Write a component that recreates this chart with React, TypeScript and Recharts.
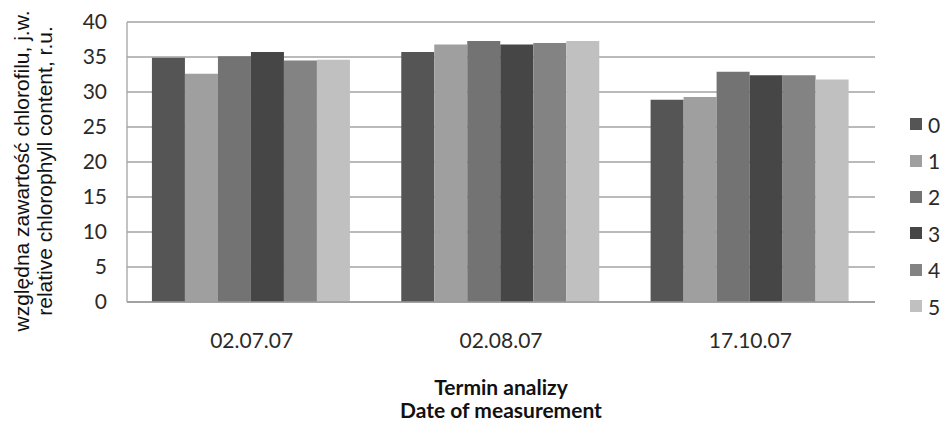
import React from "react";
import {
  BarChart,
  Bar,
  XAxis,
  YAxis,
  CartesianGrid,
  Legend,
} from "recharts";

// measurement dates
const dates = ["02.07.07", "02.08.07", "17.10.07"];

// relative chlorophyll content per variant (0..5)
const variant0 = [34.9, 35.7, 28.9];
const variant1 = [32.6, 36.8, 29.3];
const variant2 = [35.1, 37.3, 32.9];
const variant3 = [35.7, 36.8, 32.4];
const variant4 = [34.5, 37.0, 32.4];
const variant5 = [34.6, 37.3, 31.8];

const yTicks = [0, 5, 10, 15, 20, 25, 30, 35, 40];

const variants = [variant0, variant1, variant2, variant3, variant4, variant5];
const variantNames = ["0", "1", "2", "3", "4", "5"];
const fills = ["#555555", "#9f9f9f", "#737373", "#464646", "#838383", "#c0c0c0"];

const data = dates.map((d, i) => {
  const row: Record<string, string | number> = { date: d };
  variants.forEach((v, k) => {
    row["v" + k] = v[i];
  });
  return row;
});

const tickFont = { fontFamily: "Lato", fontSize: 21, fill: "#2a2a2a" };
const tickFontCss = { fontFamily: "Lato", fontSize: 21, color: "#2a2a2a" };

function YTitle() {
  const cy = 171;
  return (
    <g fontFamily="'Liberation Sans', Arial" fontSize={21} fill="#111">
      <text x={29} y={cy} textAnchor="middle" transform={`rotate(-90, 29, ${cy})`}>
        względna zawartość chlorofilu, j.w.
      </text>
      <text x={52} y={cy} textAnchor="middle" transform={`rotate(-90, 52, ${cy})`}>
        relative chlorophyll content, r.u.
      </text>
    </g>
  );
}

function XTitle(props: any) {
  const vb = props.viewBox || { x: 0, width: 0 };
  const cx = vb.x + vb.width / 2;
  return (
    <g fontFamily="Lato" fontWeight={700} fontSize={21} fill="#111" textAnchor="middle">
      <text x={cx} y={395}>Termin analizy</text>
      <text x={cx} y={418}>Date of measurement</text>
    </g>
  );
}

function LegendBox(props: any) {
  const items = props.payload || [];
  return (
    <div>
      {items.map((it: any) => (
        <div
          key={it.value}
          style={{ display: "flex", alignItems: "center", height: 36.4 }}
        >
          <span
            style={{
              display: "inline-block",
              width: 12,
              height: 12,
              background: it.color,
              marginRight: 6,
            }}
          />
          <span style={{ ...tickFontCss, lineHeight: "21px" }}>{it.value}</span>
        </div>
      ))}
    </div>
  );
}

export default function App() {
  return (
    <div style={{ position: "fixed", left: 0, top: 0, background: "#fff" }}>
      <BarChart
        width={942}
        height={422}
        data={data}
        margin={{ top: 22, right: 35, bottom: 0, left: 0 }}
        barCategoryGap="10%"
        barGap={0}
      >
        <CartesianGrid vertical={false} stroke="#a3a3a3" strokeWidth={1.3} />
        <XAxis
          dataKey="date"
          height={120}
          tick={tickFont}
          tickLine={false}
          tickSize={0}
          tickMargin={31}
          axisLine={{ stroke: "#9a9a9a", strokeWidth: 1.5 }}
          label={<XTitle />}
        />
        <YAxis
          width={127}
          domain={[0, 40]}
          ticks={yTicks}
          tick={tickFont}
          tickLine={false}
          tickSize={0}
          tickMargin={20}
          axisLine={{ stroke: "#a3a3a3", strokeWidth: 1.3 }}
          label={<YTitle />}
        />
        <Legend
          layout="vertical"
          align="right"
          verticalAlign="middle"
          width={32}
          wrapperStyle={{ left: 910, top: 106 }}
          content={<LegendBox />}
        />
        {variants.map((_, k) => (
          <Bar
            key={k}
            dataKey={"v" + k}
            name={variantNames[k]}
            fill={fills[k]}
            isAnimationActive={false}
          />
        ))}
      </BarChart>
    </div>
  );
}
